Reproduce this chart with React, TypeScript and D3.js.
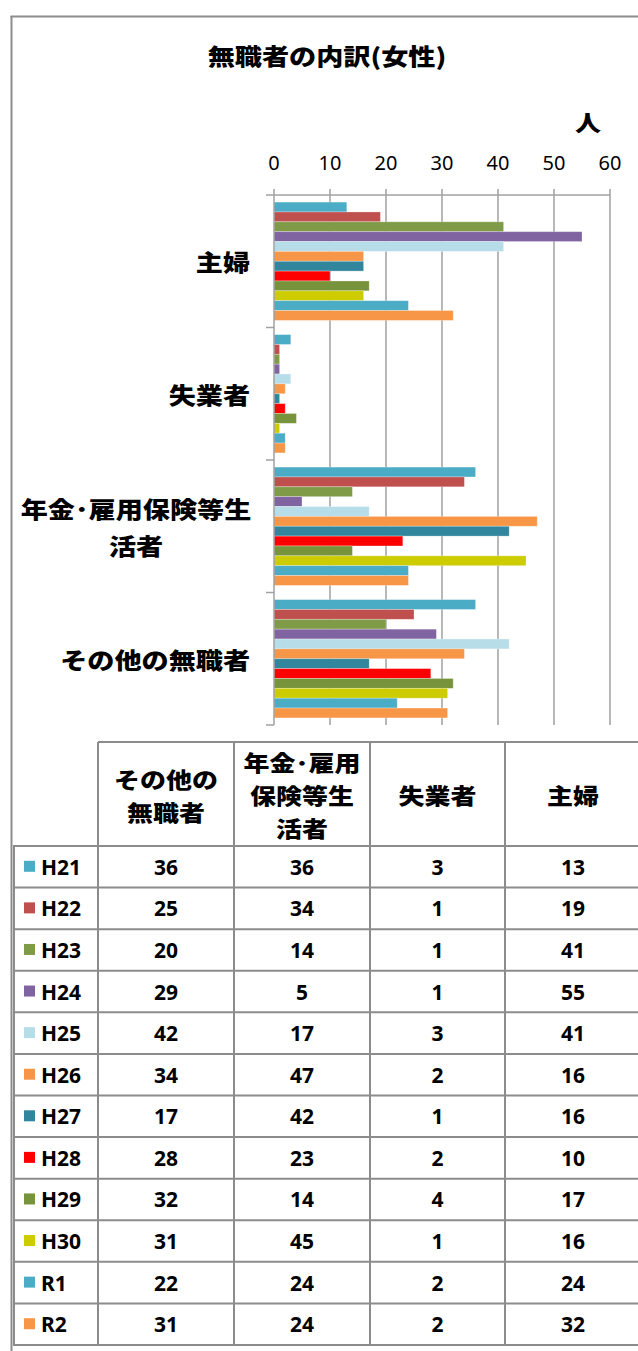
import React from "react";
import * as d3 from "d3";

const title = "無職者の内訳(女性)";
const unitLabel = "人";
const categories = ["主婦", "失業者", "年金･雇用保険等生活者", "その他の無職者"];
const categoryLines = [["主婦"], ["失業者"], ["年金･雇用保険等生", "活者"], ["その他の無職者"]];
const seriesNames = ["H21", "H22", "H23", "H24", "H25", "H26", "H27", "H28", "H29", "H30", "R1", "R2"];
const seriesColors = ["#4BACC6", "#C0504D", "#7F9B47", "#8064A2", "#B7DEE8", "#F79646", "#31859C", "#FF0000", "#77933C", "#CCCC00", "#4BACC6", "#F79646"];
// values per series: [主婦, 失業者, 年金・雇用保険等生活者, その他の無職者]
const seriesValues = [
  [13, 3, 36, 36],
  [19, 1, 34, 25],
  [41, 1, 14, 20],
  [55, 1, 5, 29],
  [41, 3, 17, 42],
  [16, 2, 47, 34],
  [16, 1, 42, 17],
  [10, 2, 23, 28],
  [17, 4, 14, 32],
  [16, 1, 45, 31],
  [24, 2, 24, 22],
  [32, 2, 24, 31],
];
const tickValues = [0, 10, 20, 30, 40, 50, 60];
// table column order (reverse of chart categories)
const tableColumnOrder = [3, 2, 1, 0];
const tableHeaders = [["その他の", "無職者"], ["年金･雇用", "保険等生", "活者"], ["失業者"], ["主婦"]];

const W = 638;
const H = 1351;
const JP = "'Noto Sans CJK JP', 'Noto Sans', sans-serif";
const NUM = "'Noto Sans', 'Open Sans', sans-serif";
const SX = 1.18;

function JText({ x, y, lines, size, anchor, lh }: { x: number; y: number; lines: string[]; size: number; anchor: string; lh: number }) {
  const y0 = -((lines.length - 1) * lh) / 2;
  return (
    <g transform={`translate(${x},${y}) scale(${SX},1)`}>
      <text textAnchor={anchor} dominantBaseline="central" fontFamily={JP} fontWeight={900} fontSize={size}>
        {lines.map((l, i) => (
          <tspan key={i} x={0} y={y0 + i * lh}>
            {l}
          </tspan>
        ))}
      </text>
    </g>
  );
}

export default function App() {
  const x = d3.scaleLinear().domain([0, 60]).range([274, 610]);
  const yCat = d3.scaleBand<number>().domain(d3.range(categories.length)).range([195, 725]).padding(0);
  const ySer = d3
    .scaleBand<number>()
    .domain(d3.range(seriesNames.length))
    .range([0, yCat.bandwidth()])
    .paddingInner(0)
    .paddingOuter(0.72);

  const gridColor = "#a0a0a0";
  const lineColor = "#8c8c8c";

  const colX = [14, 98, 234, 370, 505, 641];
  const headerTop = 742;
  const headerBottom = 846;
  const rowBottom = 1345;
  const rowY = d3.scaleBand<number>().domain(d3.range(seriesNames.length)).range([headerBottom, rowBottom]);

  return (
    <svg width={W} height={H} style={{ position: "absolute", left: 0, top: 0, background: "#fff" }}>
      <rect x={0} y={0} width={W} height={H} fill="#fff" />
      {/* outer frame */}
      <line x1={11.5} y1={16} x2={11.5} y2={H} stroke={lineColor} strokeWidth={2} />
      <line x1={10.5} y1={16.5} x2={W} y2={16.5} stroke={lineColor} strokeWidth={2} />

      <JText x={327} y={55} lines={[title]} size={23} anchor="middle" lh={0} />
      <JText x={588} y={121} lines={[unitLabel]} size={22} anchor="middle" lh={0} />

      {/* tick labels */}
      {tickValues.map((t) => (
        <text key={"tl" + t} x={x(t)} y={162} textAnchor="middle" dominantBaseline="central" fontFamily={NUM} fontSize={20}>
          {t}
        </text>
      ))}

      {/* grid lines */}
      {tickValues.slice(1).map((t) => (
        <line key={"g" + t} x1={x(t)} x2={x(t)} y1={195} y2={725} stroke={gridColor} strokeWidth={1.5} />
      ))}

      {/* bars */}
      {seriesValues.map((vals, si) =>
        vals.map((v, ci) => (
          <rect
            key={`b${si}-${ci}`}
            x={x(0)}
            y={(yCat(ci) as number) + (ySer(si) as number)}
            width={x(v) - x(0)}
            height={ySer.bandwidth()}
            fill={seriesColors[si]}
            stroke="#ffffff"
            strokeOpacity={0.35}
            strokeWidth={0.8}
          />
        ))
      )}

      {/* top axis */}
      <line x1={x(0)} x2={x(60)} y1={195} y2={195} stroke={gridColor} strokeWidth={1.5} />
      {tickValues.map((t) => (
        <line key={"tk" + t} x1={x(t)} x2={x(t)} y1={189} y2={195} stroke={gridColor} strokeWidth={1.5} />
      ))}
      {/* left axis */}
      <line x1={x(0)} x2={x(0)} y1={195} y2={725} stroke={gridColor} strokeWidth={1.5} />
      {d3.range(categories.length + 1).map((i) => {
        const yy = 195 + i * yCat.bandwidth();
        return <line key={"yt" + i} x1={266} x2={x(0)} y1={yy} y2={yy} stroke={gridColor} strokeWidth={1.5} />;
      })}

      {/* category labels */}
      {categoryLines.map((lines, ci) => {
        const cy = (yCat(ci) as number) + yCat.bandwidth() / 2;
        if (lines.length === 1) {
          return <JText key={"c" + ci} x={250} y={cy} lines={lines} size={23} anchor="end" lh={0} />;
        }
        return <JText key={"c" + ci} x={136} y={cy} lines={lines} size={23} anchor="middle" lh={37} />;
      })}

      {/* table */}
      <line x1={colX[1]} x2={W} y1={headerTop} y2={headerTop} stroke={lineColor} strokeWidth={2} />
      {d3.range(seriesNames.length + 1).map((i) => {
        const yy = i < seriesNames.length ? (rowY(i) as number) : rowBottom;
        return <line key={"h" + i} x1={colX[0] - 1} x2={W} y1={yy} y2={yy} stroke={lineColor} strokeWidth={2} />;
      })}
      <line x1={colX[0]} x2={colX[0]} y1={headerBottom} y2={rowBottom} stroke={lineColor} strokeWidth={2} />
      {colX.slice(1, 5).map((cx, i) => (
        <line key={"v" + i} x1={cx} x2={cx} y1={headerTop} y2={rowBottom} stroke={lineColor} strokeWidth={2} />
      ))}

      {/* table header */}
      {tableHeaders.map((lines, i) => (
        <JText
          key={"th" + i}
          x={(colX[i + 1] + colX[i + 2]) / 2}
          y={(headerTop + headerBottom) / 2}
          lines={lines}
          size={22}
          anchor="middle"
          lh={33}
        />
      ))}

      {/* table rows */}
      {seriesNames.map((name, si) => {
        const cy = (rowY(si) as number) + rowY.bandwidth() / 2;
        return (
          <g key={"r" + si}>
            <rect x={24} y={cy - 6} width={11} height={11} fill={seriesColors[si]} />
            <text x={41} y={cy} dominantBaseline="central" fontFamily={NUM} fontWeight="bold" fontSize={21}>
              {name}
            </text>
            {tableColumnOrder.map((ci, k) => (
              <text
                key={"v" + k}
                x={(colX[k + 1] + colX[k + 2]) / 2}
                y={cy}
                textAnchor="middle"
                dominantBaseline="central"
                fontFamily={NUM}
                fontWeight="bold"
                fontSize={21}
              >
                {seriesValues[si][ci]}
              </text>
            ))}
          </g>
        );
      })}
    </svg>
  );
}
